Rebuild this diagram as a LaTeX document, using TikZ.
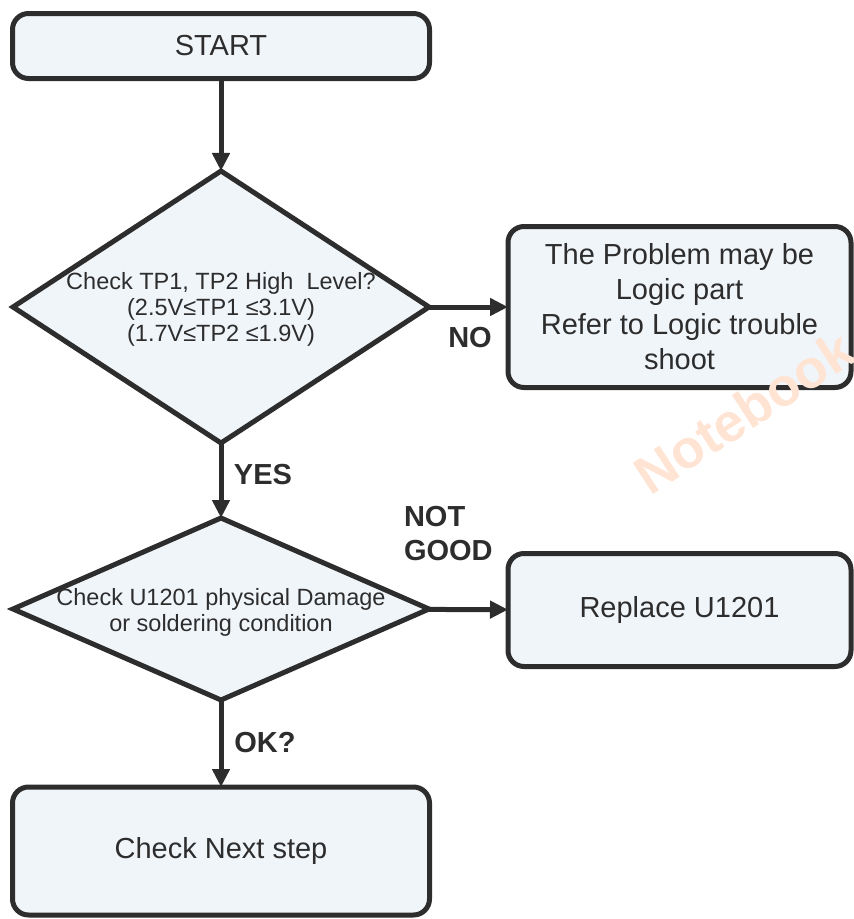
\documentclass[tikz,border=0pt]{standalone}
\usepackage{fontspec}
\setmainfont{Liberation Sans}
\usetikzlibrary{shapes.geometric,arrows.meta}
\definecolor{boxfill}{RGB}{240,245,250}
\definecolor{edge}{RGB}{45,45,45}
\definecolor{stamp}{RGB}{255,228,212}

\begin{document}
\begin{tikzpicture}[x=1pt,y=-1pt,
  every node/.style={inner sep=0pt, outer sep=0pt, text=edge},
  box/.style={draw=edge, fill=boxfill, line width=5pt, rounded corners=16pt, align=center, font=\fontsize{29}{35}\selectfont},
  dia/.style={draw=edge, fill=boxfill, line width=5pt, diamond, minimum width=416pt, minimum height=#1},
  diatext/.style={align=center, font=\fontsize{23.5}{26}\selectfont},
  tag/.style={font=\bfseries\fontsize{29}{34}\selectfont, align=left},
  flow/.style={draw=edge, line width=5pt, -{Triangle[length=18pt,width=17pt]}}]
\useasboundingbox (0,0) rectangle (854,919);

\node[box, minimum width=417pt, minimum height=65pt] (start) at (221,46) {START};
\node[dia=272pt] (tp) at (221,307) {};
\node[diatext] (tptext) at (221,309) {Check TP1, TP2 High~ Level?\\(2.5V≤TP1 ≤3.1V)\\(1.7V≤TP2 ≤1.9V)};
\node[box, minimum width=343pt, minimum height=161pt] (logic) at (679.5,307) {The Problem may be\\Logic part\\Refer to Logic trouble\\shoot};
\node[dia=182pt] (dmg) at (221,609) {};
\node[diatext] (dmgtext) at (221,612) {Check U1201 physical Damage\\or soldering condition};
\node[box, minimum width=343pt, minimum height=113pt] (repl) at (679.5,610) {Replace U1201};
\node[box, minimum width=417pt, minimum height=128pt] (next) at (221,851) {Check Next step};

\draw[flow] (start) -- (tp);
\draw[flow] (tp) -- (logic);
\draw[flow] (tp) -- (dmg);
\draw[flow] (dmg) -- (repl);
\draw[flow] (dmg) -- (next);

\node[tag] (no) at (470,338) {NO};
\node[tag] (yes) at (263,475) {YES};
\node[tag, anchor=west] (ng) at (404,534) {NOT\\GOOD};
\node[tag] (ok) at (265,743) {OK?};

% watermark
\begin{scope}
\clip (0,0) rectangle (854,919);
\node[rotate=33, text=stamp, font=\bfseries\fontsize{54}{54}\selectfont, anchor=base west] (mark) at (650,496) {Notebook};
\end{scope}
\end{tikzpicture}
\end{document}
